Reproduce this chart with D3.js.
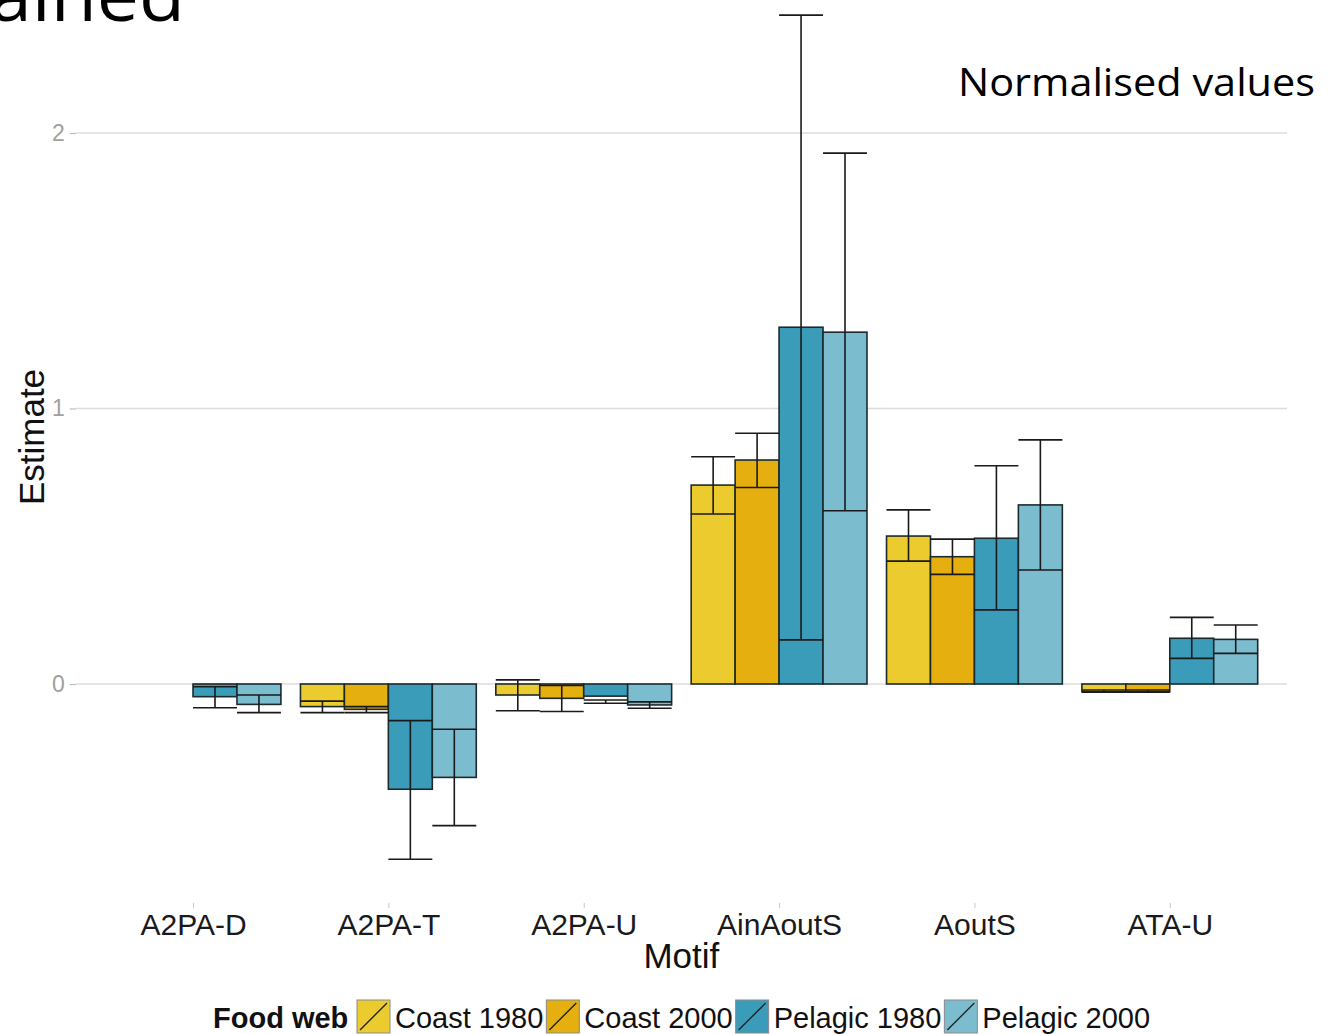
<!DOCTYPE html>
<html>
<head>
<meta charset="utf-8">
<script src="https://cdn.jsdelivr.net/npm/d3@7"></script>
<style>
  body { margin: 0; background: #fff; }
  svg { display: block; }
</style>
</head>
<body>
<div id="chart"></div>
<script>
// data -----------------------------------------------------------------
var motifs = ["A2PA-D", "A2PA-T", "A2PA-U", "AinAoutS", "AoutS", "ATA-U"];
var groups = ["Coast 1980", "Coast 2000", "Pelagic 1980", "Pelagic 2000"];
var yTicks = [0, 1, 2];

var coast1980 = [null, -0.082, -0.040, 0.722, 0.537, -0.028];
var coast1980Lo = [null, -0.104, -0.097, 0.617, 0.446, -0.030];
var coast1980Hi = [null, -0.062, 0.015, 0.825, 0.632, -0.022];

var coast2000 = [null, -0.092, -0.052, 0.813, 0.462, -0.028];
var coast2000Lo = [null, -0.104, -0.100, 0.713, 0.398, -0.030];
var coast2000Hi = [null, -0.082, -0.005, 0.910, 0.526, -0.022];

var pelagic1980 = [-0.046, -0.382, -0.044, 1.295, 0.529, 0.166];
var pelagic1980Lo = [-0.086, -0.636, -0.070, 0.160, 0.269, 0.093];
var pelagic1980Hi = [-0.010, -0.133, -0.058, 2.428, 0.792, 0.242];

var pelagic2000 = [-0.074, -0.339, -0.076, 1.277, 0.650, 0.162];
var pelagic2000Lo = [-0.104, -0.514, -0.088, 0.629, 0.414, 0.111];
var pelagic2000Hi = [-0.040, -0.164, -0.065, 1.927, 0.886, 0.214];

var groupColors = ["#ebcb2d", "#e5af10", "#3b9cba", "#7cbccf"];
//-----------------------------------------------------------------------

var svgScreen = { width: 1335, height: 1034 };
var panel = { left: 75.8, right: 1287, zeroY: 684, twoY: 133 };

var estimates = [coast1980, coast2000, pelagic1980, pelagic2000];
var lows = [coast1980Lo, coast2000Lo, pelagic1980Lo, pelagic2000Lo];
var highs = [coast1980Hi, coast2000Hi, pelagic1980Hi, pelagic2000Hi];

var rows = [];
groups.forEach(function(g, gi) {
  motifs.forEach(function(m, mi) {
    if (estimates[gi][mi] === null) return;
    rows.push({ motif: m, group: g, est: estimates[gi][mi], lo: lows[gi][mi], hi: highs[gi][mi] });
  });
});

var svg = d3.select("#chart").append("svg")
  .attr("width", svgScreen.width)
  .attr("height", svgScreen.height);

var xScale = d3.scalePoint().domain(motifs).range([panel.left, panel.right]).padding(0.6);
var step = xScale.step();
var xInner = d3.scaleBand().domain(groups).range([-0.45 * step, 0.45 * step]);
var yScale = d3.scaleLinear().domain([0, 2]).range([panel.zeroY, panel.twoY]);
var colors = d3.scaleOrdinal().domain(groups).range(groupColors);
var axisFont = "'Liberation Sans', Arial, sans-serif";

// slide text around the chart (the title is cut by the top edge, as in the slide)
svg.append("text")
  .attr("x", -10).attr("y", 21)
  .attr("font-family", "'Open Sans', sans-serif")
  .attr("font-size", 72)
  .attr("textLength", 195)
  .attr("lengthAdjust", "spacingAndGlyphs")
  .attr("fill", "#000")
  .text("ained");

svg.append("text")
  .attr("x", 958).attr("y", 96)
  .attr("font-family", "'Open Sans', sans-serif")
  .attr("font-size", 39)
  .attr("textLength", 357)
  .attr("lengthAdjust", "spacingAndGlyphs")
  .attr("fill", "#000")
  .text("Normalised values");

// grid + y axis
var grid = svg.append("g").attr("class", "grid");
grid.selectAll("line")
  .data(yTicks)
  .enter().append("line")
  .attr("x1", panel.left).attr("x2", panel.right)
  .attr("y1", function(d) { return yScale(d); })
  .attr("y2", function(d) { return yScale(d); })
  .attr("stroke", "#dcdcdc")
  .attr("stroke-width", 1.6);

var yAxis = d3.axisLeft(yScale).tickValues(yTicks).tickSize(6).tickPadding(5).tickFormat(d3.format("d"));
var yG = svg.append("g")
  .attr("transform", "translate(" + panel.left + ",0)")
  .call(yAxis);
yG.select(".domain").remove();
yG.selectAll(".tick line").attr("stroke", "#bbb").attr("stroke-width", 1.2);
yG.selectAll(".tick text")
  .attr("font-family", axisFont)
  .attr("font-size", 23)
  .attr("fill", "#a0a0a0");

svg.append("text")
  .attr("transform", "translate(44,437) rotate(-90)")
  .attr("text-anchor", "middle")
  .attr("font-family", axisFont)
  .attr("font-size", 35)
  .attr("fill", "#111")
  .text("Estimate");

// x axis
var xAxis = d3.axisBottom(xScale).tickSize(5).tickPadding(6);
var xG = svg.append("g")
  .attr("transform", "translate(0,903)")
  .call(xAxis);
xG.select(".domain").remove();
xG.selectAll(".tick line").attr("stroke", "#c8c8c8").attr("stroke-width", 1);
xG.selectAll(".tick text")
  .attr("font-family", axisFont)
  .attr("font-size", 30)
  .attr("fill", "#1a1a1a");

svg.append("text")
  .attr("x", (panel.left + panel.right) / 2).attr("y", 968)
  .attr("text-anchor", "middle")
  .attr("font-family", axisFont)
  .attr("font-size", 35)
  .attr("fill", "#111")
  .text("Motif");

// bars
var barX = function(d) { return xScale(d.motif) + xInner(d.group); };
svg.append("g").attr("class", "bars")
  .selectAll("rect")
  .data(rows)
  .enter().append("rect")
  .attr("x", barX)
  .attr("width", xInner.bandwidth())
  .attr("y", function(d) { return yScale(Math.max(0, d.est)); })
  .attr("height", function(d) { return Math.abs(yScale(d.est) - yScale(0)); })
  .attr("fill", function(d) { return colors(d.group); })
  .attr("stroke", "#1c2a2e")
  .attr("stroke-width", 1.6);

// error bars
var errG = svg.append("g").attr("class", "errors")
  .selectAll("g")
  .data(rows)
  .enter().append("g")
  .attr("stroke", "#1a1a1a")
  .attr("stroke-width", 1.6);
errG.append("line")
  .attr("x1", function(d) { return barX(d) + xInner.bandwidth() / 2; })
  .attr("x2", function(d) { return barX(d) + xInner.bandwidth() / 2; })
  .attr("y1", function(d) { return yScale(d.lo); })
  .attr("y2", function(d) { return yScale(d.hi); });
errG.append("line")
  .attr("x1", barX)
  .attr("x2", function(d) { return barX(d) + xInner.bandwidth(); })
  .attr("y1", function(d) { return yScale(d.lo); })
  .attr("y2", function(d) { return yScale(d.lo); });
errG.append("line")
  .attr("x1", barX)
  .attr("x2", function(d) { return barX(d) + xInner.bandwidth(); })
  .attr("y1", function(d) { return yScale(d.hi); })
  .attr("y2", function(d) { return yScale(d.hi); });

// legend
var legend = svg.append("g").attr("class", "legend");
legend.append("text")
  .attr("x", 213).attr("y", 1028)
  .attr("font-family", axisFont)
  .attr("font-size", 29)
  .attr("font-weight", "bold")
  .attr("fill", "#111")
  .text("Food web");

var cursor = 357;
var keySize = 33;
groups.forEach(function(g) {
  var key = legend.append("g").attr("transform", "translate(" + cursor + ",1000)");
  key.append("rect")
    .attr("width", keySize).attr("height", keySize)
    .attr("fill", colors(g))
    .attr("stroke", "#8a8a8a")
    .attr("stroke-width", 1);
  key.append("line")
    .attr("x1", 3).attr("y1", keySize - 3)
    .attr("x2", keySize - 3).attr("y2", 3)
    .attr("stroke", "#222")
    .attr("stroke-width", 1.4);
  var label = legend.append("text")
    .attr("x", cursor + keySize + 5).attr("y", 1028)
    .attr("font-family", axisFont)
    .attr("font-size", 29)
    .attr("fill", "#111")
    .text(g);
  cursor += keySize + 5 + label.node().getComputedTextLength() + 3;
});
</script>
</body>
</html>
